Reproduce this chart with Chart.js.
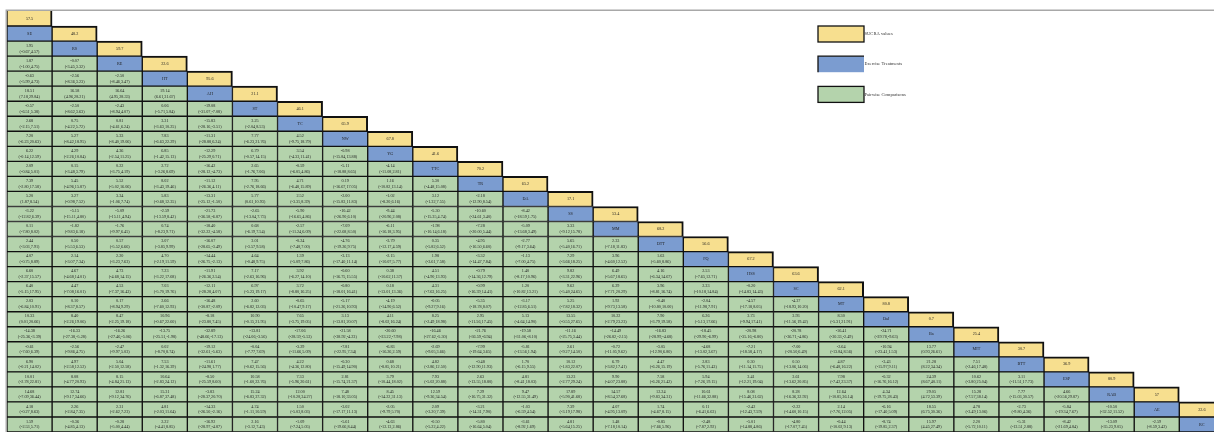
<!DOCTYPE html>
<html>
<head>
<meta charset="utf-8">
<title>League table</title>
<script src="https://cdn.jsdelivr.net/npm/chart.js@4.4.1/dist/chart.umd.min.js"></script>
<style>
  html, body { margin: 0; padding: 0; background: #fff; }
  #wrap { position: relative; width: 1214px; height: 432px; }
</style>
</head>
<body>
<div id="wrap"><canvas id="leagueChart" width="1214" height="432"></canvas></div>
<script>
// treatments, in the order they sit on the diagonal
var treatments = ['SE', 'RS', 'RE', 'HT', 'AH', 'ST', 'TC', 'NW', 'YG', 'TTC', 'TR', 'DA', 'SS',
    'MM', 'DTT', 'FQ', 'HSS', 'SC', 'MT', 'DaJ', 'Ba', 'MIT', 'BTT', 'ESP', 'RAB', 'AE', 'RC'];

// SUCRA values (yellow cells, one per row)
var sucra = [57.5, 48.2, 59.7, 22.6, 95.6, 21.1, 46.1, 65.9, 67.8, 41.6, 70.2, 65.2, 17.1, 53.4,
    68.2, 56.6, 67.2, 63.6, 62.1, 80.8, 0.7, 25.4, 30.7, 36.9, 80.9, 57, 22.6];

// pairwise comparisons, one array per table row (rows 2..27)
var effects = [
    [1.95],
    [1.87, -0.07],
    [-0.63, -2.56, -2.50],
    [18.51, 16.58, 16.64, 19.14],
    [-0.57, -2.50, -2.43, 0.06, -19.08],
    [2.68, 0.75, 0.81, 3.31, -15.83, 3.25],
    [7.20, 5.27, 5.33, 7.83, -11.31, 7.77, 4.52],
    [6.22, 4.29, 4.36, 6.85, -12.29, 6.79, 3.54, -0.98],
    [2.09, 0.15, 0.22, 2.72, -16.42, 2.65, -0.59, -5.11, -4.14],
    [7.39, 5.45, 5.52, 8.02, -11.12, 7.95, 4.71, 0.19, 1.16, 5.30],
    [5.20, 3.27, 3.34, 5.83, -13.31, 5.77, 2.52, -2.00, -1.02, 3.12, -2.18],
    [-3.22, -5.15, -5.09, -2.59, -21.73, -2.65, -5.90, -10.42, -9.44, -5.30, -10.60, -8.42],
    [0.11, -1.82, -1.76, 0.74, -18.40, 0.68, -2.57, -7.09, -6.11, -1.98, -7.28, -5.09, 3.33],
    [2.44, 0.50, 0.57, 3.07, -16.07, 3.01, -0.24, -4.76, -3.79, 0.35, -4.95, -2.77, 5.65, 2.33],
    [4.07, 2.14, 2.20, 4.70, -14.44, 4.64, 1.39, -3.13, -2.15, 1.98, -3.32, -1.13, 7.29, 3.96, 1.63],
    [6.60, 4.67, 4.73, 7.23, -11.91, 7.17, 3.92, -0.60, 0.38, 4.51, -0.79, 1.40, 9.82, 6.49, 4.16, 2.53],
    [6.40, 4.47, 4.53, 7.03, -12.11, 6.97, 3.72, -0.80, 0.18, 4.31, -0.99, 1.20, 9.62, 6.29, 3.96, 2.33, -0.20],
    [2.03, 0.10, 0.17, 2.66, -16.48, 2.60, -0.65, -5.17, -4.19, -0.05, -5.35, -3.17, 5.25, 1.92, -0.40, -2.04, -4.57, -4.37],
    [10.33, 8.40, 8.47, 10.96, -8.18, 10.90, 7.65, 3.13, 4.11, 8.25, 2.95, 5.13, 13.55, 10.22, 7.90, 6.26, 3.73, 3.93, 8.30],
    [-14.38, -16.33, -16.26, -13.75, -32.89, -13.81, -17.06, -21.58, -20.60, -16.46, -21.76, -19.58, -11.16, -14.49, -16.83, -18.45, -20.98, -20.78, -16.41, -24.71],
    [-0.61, -2.56, -2.47, 0.02, -19.12, -0.04, -3.29, -7.81, -6.83, -2.69, -7.99, -5.81, 2.61, -0.72, -3.05, -4.68, -7.21, -7.00, -2.64, -10.94, 13.77],
    [6.90, 4.97, 5.04, 7.53, -11.61, 7.47, 4.22, -0.30, 0.68, 4.82, -0.48, 1.70, 10.12, 6.79, 4.47, 2.83, 0.30, 0.50, 4.87, -3.43, 21.28, 7.51],
    [10.01, 8.08, 8.15, 10.64, -8.50, 10.58, 7.33, 2.81, 3.79, 7.93, 2.63, 4.81, 13.23, 9.90, 7.58, 5.94, 3.41, 3.61, 7.98, -0.32, 24.39, 10.62, 3.11],
    [14.68, 12.74, 12.81, 15.31, -3.83, 15.24, 12.00, 7.48, 8.45, 12.59, 7.29, 9.47, 17.89, 14.57, 12.24, 10.61, 8.08, 8.28, 12.64, 4.34, 29.05, 15.28, 7.77, 4.66],
    [4.18, 2.26, 2.31, 4.81, -14.33, 4.74, 1.50, -3.02, -2.05, 2.09, -3.21, -1.03, 7.39, 4.07, 1.74, 0.11, -2.42, -2.22, 2.14, -6.16, 18.55, 4.78, -2.73, -5.84, -10.50],
    [1.59, -0.36, -0.28, 2.22, -16.92, 2.16, -1.09, -5.61, -4.63, -0.50, -5.80, -3.61, 4.81, 1.48, -0.85, -2.48, -5.01, -4.80, -0.44, -8.74, 15.97, 2.20, -5.31, -8.42, -13.09, -2.59]
];

var ciLow = [
    [-0.67],
    [-1.00, -3.45],
    [-5.99, -8.36, -8.46],
    [7.18, 4.96, 4.95, 6.61],
    [-6.51, -8.62, -8.94, -5.71, -31.07],
    [-2.15, -4.22, -4.61, -3.63, -28.16, -2.04],
    [-6.23, -8.42, -8.40, -6.63, -28.88, -6.23, -9.75],
    [-0.14, -2.26, -2.54, -1.42, -25.29, -0.57, -4.33, -15.84],
    [-0.84, -3.48, -3.75, -3.26, -28.12, -1.76, -6.05, -18.88, -11.08],
    [-2.80, -4.96, -5.02, -3.43, -26.36, -2.76, -6.48, -16.67, -10.82, -4.48],
    [1.87, -0.98, -1.06, -0.68, -25.12, 0.61, -3.35, -15.83, -8.20, -1.32, -12.90],
    [-12.82, -15.11, -15.11, -13.59, -36.58, -13.04, -16.65, -26.90, -20.96, -15.35, -24.61, -18.59],
    [-7.80, -9.83, -9.97, -8.23, -32.22, -6.19, -11.24, -22.68, -16.18, -10.14, -20.00, -13.68, -9.12],
    [-3.03, -5.53, -5.52, -3.85, -28.65, -3.57, -7.48, -19.26, -12.17, -5.82, -16.50, -9.17, -5.40, -7.18],
    [-0.75, -3.07, -3.23, -2.19, -26.75, -0.48, -5.09, -17.40, -10.07, -3.61, -14.47, -7.00, -3.66, -4.60, -5.60],
    [-2.37, -4.68, -4.68, -3.22, -26.36, -2.63, -6.27, -16.75, -10.62, -4.90, -14.36, -8.17, -3.31, -5.67, -6.34, -7.65],
    [-5.15, -7.08, -7.37, -5.70, -28.28, -5.23, -8.80, -18.01, -13.01, -7.63, -16.39, -10.82, -5.40, -7.71, -8.81, -10.18, -14.83],
    [-6.84, -8.37, -8.94, -7.60, -30.87, -6.82, -10.47, -21.26, -14.90, -9.27, -18.78, -12.85, -7.82, -9.73, -10.80, -11.98, -17.18, -18.93],
    [0.01, -2.26, -2.25, -0.67, -23.80, -0.15, -3.75, -13.81, -8.02, -2.49, -11.56, -4.64, -0.55, -2.79, -3.79, -5.13, -9.94, -11.56, -5.31],
    [-25.36, -27.38, -27.46, -25.51, -48.66, -24.06, -28.59, -38.92, -33.22, -27.62, -36.59, -31.06, -25.75, -26.82, -28.99, -29.90, -35.16, -36.71, -30.33, -39.78],
    [-7.60, -9.86, -9.97, -8.70, -32.61, -7.77, -11.66, -22.95, -16.26, -9.05, -19.64, -13.56, -9.27, -11.05, -12.90, -13.02, -18.58, -20.50, -13.84, -23.41, 0.93],
    [-0.21, -2.58, -2.50, -1.32, -24.98, -0.62, -4.36, -15.49, -8.85, -2.86, -12.90, -6.15, -1.83, -3.82, -6.26, -5.76, -11.14, -13.06, -6.48, -15.97, 8.22, -2.46],
    [-2.78, -4.77, -4.84, -2.83, -25.59, -1.60, -5.96, -15.74, -10.44, -5.02, -13.55, -8.41, -2.77, -4.07, -6.26, -7.26, -12.21, -13.62, -7.42, -16.76, 8.67, -3.80, -11.51],
    [-7.09, -9.17, -9.12, -6.87, -28.37, -6.83, -10.28, -18.10, -14.22, -9.36, -16.75, -12.55, -5.90, -8.54, -9.83, -11.66, -15.46, -16.36, -10.85, -19.75, 4.72, -7.57, -15.03, -20.56],
    [-0.27, -2.84, -2.62, -2.03, -26.50, -1.11, -5.03, -17.17, -9.79, -3.20, -14.31, -6.59, -3.19, -4.95, -4.67, -6.41, -12.43, -14.60, -7.76, -17.40, 6.75, -3.49, -9.80, -19.34, -32.52],
    [-2.53, -4.85, -5.00, -4.41, -28.97, -3.12, -7.24, -19.66, -12.13, -5.22, -16.64, -8.92, -5.64, -7.18, -7.66, -7.87, -14.88, -17.07, -10.02, -19.85, 4.45, -5.72, -13.51, -21.69, -35.23, -8.59]
];

var ciHigh = [
    [4.57],
    [4.75, 3.32],
    [4.73, 3.23, 3.47],
    [29.84, 28.21, 28.33, 31.67],
    [5.38, 3.63, 4.07, 5.84, -7.08],
    [7.51, 5.72, 6.24, 10.25, -3.51, 8.53],
    [20.63, 18.95, 19.06, 22.29, 6.24, 21.76, 18.79],
    [12.59, 10.84, 11.25, 15.13, 0.71, 14.15, 11.41, 13.88],
    [5.01, 3.79, 4.19, 8.69, -4.73, 7.06, 4.86, 8.65, 2.81],
    [17.58, 15.87, 16.06, 19.46, 4.11, 18.66, 15.89, 17.05, 13.14, 15.08],
    [8.54, 7.52, 7.74, 12.35, -1.50, 10.93, 8.39, 11.83, 6.16, 7.55, 8.54],
    [6.39, 4.80, 4.94, 8.42, -6.87, 7.73, 4.86, 6.10, 2.08, 4.74, 3.40, 1.75],
    [8.02, 6.18, 6.45, 9.71, -4.58, 7.54, 6.09, 8.50, 3.95, 6.18, 5.44, 3.49, 15.78],
    [7.91, 6.53, 6.66, 9.99, -3.49, 9.58, 7.00, 9.75, 4.59, 6.52, 6.60, 3.64, 16.71, 11.83],
    [8.89, 7.34, 7.63, 11.59, -2.13, 9.75, 7.86, 11.14, 5.77, 7.58, 7.84, 4.75, 18.25, 12.52, 8.86],
    [15.57, 14.01, 14.15, 17.68, 2.54, 16.96, 14.10, 15.55, 11.37, 13.93, 12.79, 10.96, 22.96, 18.65, 14.67, 12.71],
    [17.95, 16.01, 16.43, 19.76, 4.07, 19.17, 16.25, 16.41, 13.36, 16.25, 14.41, 13.21, 24.65, 20.29, 16.74, 14.84, 14.43],
    [10.91, 8.57, 9.29, 12.93, -2.09, 12.03, 9.17, 10.93, 6.52, 9.16, 8.07, 6.51, 18.32, 13.58, 10.00, 7.91, 8.05, 10.20],
    [20.66, 19.06, 19.18, 22.60, 7.45, 21.95, 19.05, 20.07, 16.24, 18.98, 17.45, 14.90, 27.65, 23.23, 19.58, 17.66, 17.41, 19.42, 21.91],
    [-3.39, -5.28, -5.06, -1.98, -17.13, -3.56, -5.53, -4.23, -7.98, -5.30, -6.94, -8.10, 3.44, -2.15, -4.68, -6.99, -6.80, -4.86, -2.49, -9.63],
    [6.39, 4.75, 5.03, 8.74, -5.63, 7.69, 5.09, 7.34, 2.59, 3.66, 3.65, 1.94, 14.50, 9.62, 6.80, 3.67, 4.17, 6.49, 8.56, 1.53, 26.61],
    [14.02, 12.52, 12.58, 16.39, 1.77, 15.56, 12.80, 14.90, 10.21, 12.50, 11.93, 9.55, 22.07, 17.41, 15.19, 11.43, 11.75, 14.06, 16.22, 9.11, 34.34, 17.48],
    [22.81, 20.93, 21.13, 24.12, 8.60, 22.76, 20.61, 21.37, 18.02, 20.88, 18.80, 18.03, 29.24, 23.88, 21.42, 19.15, 19.04, 20.85, 23.37, 16.12, 40.11, 25.04, 17.73],
    [36.44, 34.66, 34.76, 37.48, 20.70, 37.32, 34.27, 33.05, 31.13, 34.54, 31.32, 31.49, 41.68, 37.68, 34.31, 32.88, 31.62, 32.92, 36.14, 28.43, 53.39, 38.14, 30.57, 29.87],
    [8.63, 7.35, 7.23, 11.64, -2.16, 10.59, 8.03, 11.13, 5.70, 7.39, 7.90, 4.54, 17.98, 13.09, 8.15, 6.63, 7.59, 10.15, 12.05, 5.09, 30.36, 13.06, 4.36, 7.67, 11.52],
    [5.71, 4.13, 4.44, 8.85, -4.87, 7.43, 5.05, 8.44, 2.86, 4.22, 5.04, 1.69, 15.25, 10.14, 5.96, 2.92, 4.86, 7.45, 9.13, 2.37, 27.49, 10.11, 2.88, 4.84, 9.05, 3.42]
];

var legendLabels = ['SUCRA values', 'Exercise Treatments', 'Pairwise Comparisons'];

var COLORS = { sucra: '#F7DF8F', treat: '#7B9CD0', pair: '#B4D3AC' };
var LEGEND_KEYS = ['sucra', 'treat', 'pair'];

var nRows = treatments.length + 1;
var rowLabels = [];
for (var i = 0; i < nRows; i++) rowLabels.push(String(i));

// what sits in row r, column c
function cellType(r, c) {
    if (c === r && r < sucra.length) return 'sucra';
    if (c === r - 1) return 'treat';
    if (c < r - 1) return 'pair';
    return null;
}

function fmt(v) { return v.toFixed(2); }

function cellLines(r, c) {
    var t = cellType(r, c);
    if (t === 'sucra') return [String(sucra[r])];
    if (t === 'treat') return [treatments[r - 1]];
    if (t === 'pair') {
        var row = r - 2;
        return [fmt(effects[row][c]), '(' + fmt(ciLow[row][c]) + ',' + fmt(ciHigh[row][c]) + ')'];
    }
    return [];
}

var datasets = [];
for (var c = 0; c < nRows; c++) {
    (function(col) {
        datasets.push({
            label: 'col' + col,
            data: rowLabels.map(function(_, r) { return cellType(r, col) ? [col, col + 1] : null; }),
            backgroundColor: function(ctx) { return COLORS[cellType(ctx.dataIndex, col)] || 'transparent'; },
            borderColor: '#111',
            borderWidth: function(ctx) {
                if (cellType(ctx.dataIndex, col) === 'sucra') {
                    // first cell sits right under the grey frame line
                    return { top: ctx.dataIndex === 0 ? 0 : 2, right: 2, bottom: 1, left: 1 };
                }
                return 1;
            },
            borderSkipped: false
        });
    })(c);
}

var framePlugin = {
    id: 'frame',
    beforeDatasetsDraw: function(chart) {
        var a = chart.chartArea, ctx = chart.ctx;
        ctx.save();
        ctx.strokeStyle = '#a8a8a8';
        ctx.lineWidth = 1.5;
        ctx.beginPath();
        ctx.moveTo(a.left - 0.7, chart.height);
        ctx.lineTo(a.left - 0.7, a.top - 0.7);
        ctx.lineTo(chart.width, a.top - 0.7);
        ctx.stroke();
        ctx.restore();
    }
};

var cellTextPlugin = {
    id: 'cellText',
    afterDatasetsDraw: function(chart) {
        var ctx = chart.ctx;
        ctx.save();
        ctx.textAlign = 'center';
        ctx.textBaseline = 'middle';
        ctx.fillStyle = '#1f1f1f';
        ctx.font = '4.2px "Liberation Serif", "DejaVu Serif", serif';
        chart.data.datasets.forEach(function(ds, col) {
            var meta = chart.getDatasetMeta(col);
            meta.data.forEach(function(bar, r) {
                if (!cellType(r, col)) return;
                var p = bar.getProps(['x', 'y', 'base'], true);
                var cx = (p.x + p.base) / 2;
                var lines = cellLines(r, col);
                if (lines.length === 1) {
                    ctx.fillText(lines[0], cx, p.y);
                } else {
                    ctx.fillText(lines[0], cx, p.y - 2.9);
                    ctx.fillText(lines[1], cx, p.y + 2.9);
                }
            });
        });
        ctx.restore();
    }
};

var legendPlugin = {
    id: 'boxLegend',
    afterDraw: function(chart) {
        var ctx = chart.ctx;
        var x = 818, y0 = 26, gap = 30.2, w = 46, h = 16;
        ctx.save();
        legendLabels.forEach(function(label, k) {
            var y = y0 + k * gap;
            ctx.fillStyle = COLORS[LEGEND_KEYS[k]];
            ctx.fillRect(x, y, w, h);
            ctx.strokeStyle = '#111';
            ctx.lineWidth = 1.3;
            if (LEGEND_KEYS[k] === 'treat') {
                // this box only has its top and left edges
                ctx.beginPath();
                ctx.moveTo(x, y + h);
                ctx.lineTo(x, y);
                ctx.lineTo(x + w, y);
                ctx.stroke();
            } else {
                ctx.strokeRect(x, y, w, h);
            }
            ctx.fillStyle = '#333';
            ctx.font = '4.6px "Liberation Serif", "DejaVu Serif", serif';
            ctx.textAlign = 'left';
            ctx.textBaseline = 'middle';
            ctx.fillText(label, x + w + 0.5, y + h / 2);
        });
        ctx.restore();
    }
};

new Chart(document.getElementById('leagueChart').getContext('2d'), {
    type: 'bar',
    data: { labels: rowLabels, datasets: datasets },
    options: {
        responsive: false,
        animation: false,
        devicePixelRatio: 1,
        indexAxis: 'y',
        layout: { padding: { top: 11, left: 7, right: 0, bottom: 0 } },
        datasets: { bar: { grouped: false, barPercentage: 1, categoryPercentage: 1 } },
        scales: {
            x: { type: 'linear', min: 0, max: 26.77, display: false },
            y: { type: 'category', display: false }
        },
        plugins: {
            legend: { display: false },
            tooltip: { enabled: false }
        }
    },
    plugins: [framePlugin, cellTextPlugin, legendPlugin]
});
</script>
</body>
</html>
